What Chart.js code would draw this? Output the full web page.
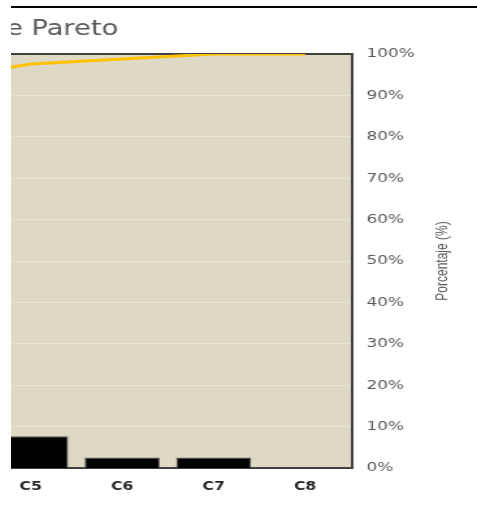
<!DOCTYPE html>
<html>
<head>
<meta charset="utf-8">
<script src="https://cdn.jsdelivr.net/npm/chart.js@4"></script>
<style>
html, body { margin: 0; background: #fff; overflow: hidden; }
#marco { position: absolute; left: 11px; top: 0; width: 466px; height: 524px; overflow: hidden; }
#raya { position: absolute; left: 0; top: 6px; width: 466px; height: 2px; background: #000; }
#paretoChart { position: absolute; left: -392px; top: 0; transform: scaleX(1.3); transform-origin: 0 0; }
</style>
</head>
<body>
<div id="marco">
  <canvas id="paretoChart" width="659" height="524"></canvas>
  <div id="raya"></div>
</div>
<script>
// datos
var categorias = ["C1", "C2", "C3", "C4", "C5", "C6", "C7", "C8"];
var frecuencias = [35, 22, 13, 8, 3, 1, 1, 0];
var acumulado = [42.2, 68.7, 84.3, 94.0, 97.6, 98.8, 100, 100];
var tituloGrafico = "Diagrama de Pareto";
var tituloEje = "Porcentaje (%)";

// fondo, marco y textos
var adornos = {
  id: 'adornos',
  beforeDraw: function(chart) {
    var ctx = chart.ctx, a = chart.chartArea;
    ctx.save();
    ctx.fillStyle = '#DDD9C4';
    ctx.fillRect(a.left, a.top, a.right - a.left, a.bottom - a.top);
    ctx.restore();
  },
  beforeDatasetsDraw: function(chart) {
    var ctx = chart.ctx, a = chart.chartArea;
    ctx.save();
    ctx.strokeStyle = '#404040';
    ctx.lineWidth = 2;
    ctx.strokeRect(a.left, a.top, a.right - a.left + 1, a.bottom - a.top);
    ctx.restore();
  },
  afterDraw: function(chart) {
    var ctx = chart.ctx, a = chart.chartArea;
    ctx.save();
    ctx.fillStyle = '#595959';
    ctx.font = '21px "DejaVu Sans"';
    ctx.textAlign = 'right';
    ctx.textBaseline = 'alphabetic';
    ctx.fillText(tituloGrafico, 384, 35);
    ctx.translate(a.right + 71, (a.top + a.bottom) / 2);
    ctx.rotate(-Math.PI / 2);
    ctx.font = '12px "Liberation Sans"';
    ctx.textAlign = 'center';
    ctx.textBaseline = 'middle';
    ctx.fillText(tituloEje, 0, 0);
    ctx.restore();
  }
};

var ctxP = document.getElementById("paretoChart").getContext('2d');
var myParetoChart = new Chart(ctxP, {
  type: 'bar',
  data: {
    labels: categorias,
    datasets: [{
      type: 'line',
      label: "Acumulado",
      data: acumulado,
      yAxisID: 'y1',
      borderColor: '#FFC000',
      backgroundColor: '#FFC000',
      borderWidth: 3,
      pointRadius: 0,
      tension: 0,
      order: 0
    }, {
      type: 'bar',
      label: "Frecuencia",
      data: frecuencias,
      yAxisID: 'y',
      backgroundColor: '#000000',
      borderColor: '#595959',
      borderWidth: 1,
      categoryPercentage: 1,
      barPercentage: 0.82,
      order: 1
    }]
  },
  options: {
    responsive: false,
    devicePixelRatio: 1,
    animation: false,
    layout: { padding: { top: 54, left: 0, right: 0, bottom: 0 } },
    plugins: {
      legend: { display: false },
      tooltip: { enabled: false },
      title: { display: false }
    },
    scales: {
      x: {
        grid: { display: false, drawTicks: false },
        border: { display: false },
        ticks: {
          padding: 12,
          color: '#262626',
          font: { family: 'DejaVu Sans', size: 12, weight: 'bold' }
        },
        afterFit: function(scale) { scale.height = 56; }
      },
      y: {
        display: false,
        min: 0,
        max: 39
      },
      y1: {
        position: 'right',
        min: 0,
        max: 100,
        grid: { color: '#E6E3D5', lineWidth: 1, drawTicks: false },
        border: { display: false },
        ticks: {
          stepSize: 10,
          padding: 12,
          color: '#595959',
          font: { family: 'DejaVu Sans', size: 13 },
          callback: function(v) { return v + '%'; }
        },
        afterFit: function(scale) { scale.width = 96; }
      }
    }
  },
  plugins: [adornos]
});
</script>
</body>
</html>
